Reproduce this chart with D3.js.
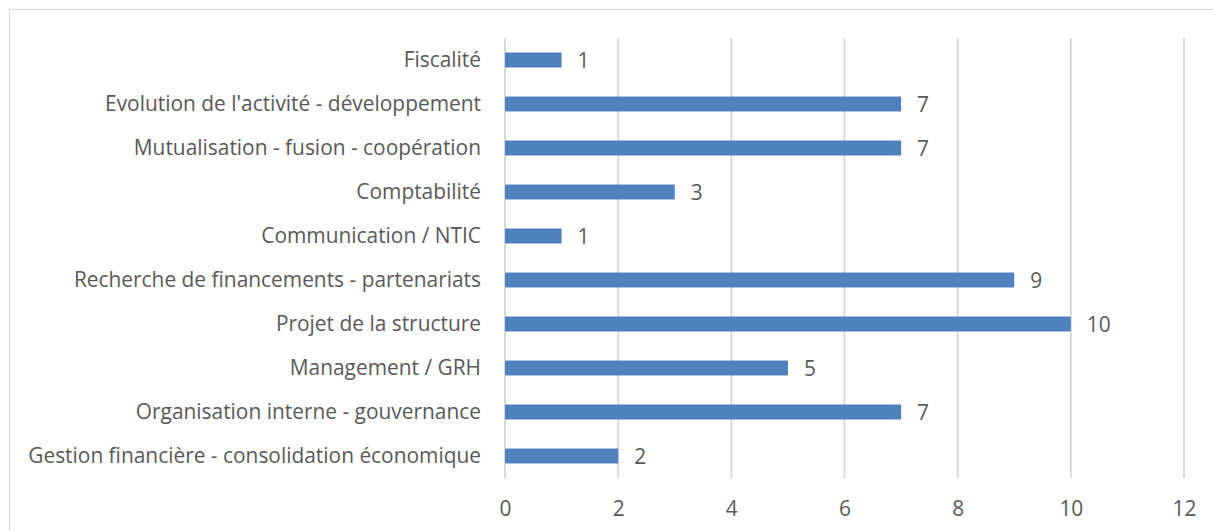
<!DOCTYPE html>
<html>
<head>
<meta charset="utf-8">
<script src="https://cdn.jsdelivr.net/npm/d3@7"></script>
<style>
  body { margin: 0; background: #fff; }
  text { font-family: "Open Sans", sans-serif; fill: #595959; }
</style>
</head>
<body>
<svg width="1213" height="531"></svg>
<script>
var categories = [
  "Fiscalité",
  "Evolution de l'activité - développement",
  "Mutualisation - fusion - coopération",
  "Comptabilité",
  "Communication / NTIC",
  "Recherche de financements - partenariats",
  "Projet de la structure",
  "Management / GRH",
  "Organisation interne - gouvernance",
  "Gestion financière - consolidation économique"
];
var values = [1, 7, 7, 3, 1, 9, 10, 5, 7, 2];
var xTicks = [0, 2, 4, 6, 8, 10, 12];

var svg = d3.select("svg"),
  margin = { top: 38, right: 29, bottom: 53, left: 505 },
  width = +svg.attr("width"),
  height = +svg.attr("height");

var fontSize = "20.9px";

// chart frame
svg.append("rect")
  .attr("x", 9.5).attr("y", 9.5)
  .attr("width", width).attr("height", height)
  .attr("fill", "none")
  .attr("stroke", "#d9d9d9");

var x = d3.scaleLinear()
  .domain([0, 12])
  .range([margin.left, width - margin.right]);

var y = d3.scaleBand()
  .domain(categories)
  .range([margin.top, height - margin.bottom])
  .paddingInner(0.66)
  .paddingOuter(0.33);

// gridlines
svg.append("g")
  .selectAll("line")
  .data(xTicks)
  .enter().append("line")
  .attr("x1", function (d) { return x(d); })
  .attr("x2", function (d) { return x(d); })
  .attr("y1", margin.top)
  .attr("y2", height - margin.bottom)
  .attr("stroke", "#d9d9d9")
  .attr("stroke-width", 2);

// bars
svg.append("g")
  .selectAll("rect")
  .data(values)
  .enter().append("rect")
  .attr("x", x(0))
  .attr("y", function (d, i) { return y(categories[i]); })
  .attr("width", function (d) { return x(d) - x(0); })
  .attr("height", y.bandwidth())
  .attr("fill", "#4f81bd");

// value labels
svg.append("g")
  .selectAll("text")
  .data(values)
  .enter().append("text")
  .attr("x", function (d) { return x(d) + 16; })
  .attr("y", function (d, i) { return y(categories[i]) + y.bandwidth() / 2 + 1; })
  .attr("dy", "0.35em")
  .style("font-size", fontSize)
  .text(function (d) { return d; });

// category axis
var yAxis = svg.append("g")
  .attr("transform", "translate(" + (margin.left - 24) + ",0)")
  .call(d3.axisLeft(y).tickSize(0).tickPadding(0));
yAxis.select(".domain").remove();
yAxis.selectAll("text")
  .style("font-size", fontSize)
  .attr("fill", "#595959");

// value axis
var xAxis = svg.append("g")
  .attr("transform", "translate(0," + (height - margin.bottom) + ")")
  .call(d3.axisBottom(x).tickValues(xTicks).tickSize(0).tickPadding(23));
xAxis.select(".domain").remove();
xAxis.selectAll("text")
  .style("font-size", fontSize)
  .attr("fill", "#595959");
</script>
</body>
</html>
